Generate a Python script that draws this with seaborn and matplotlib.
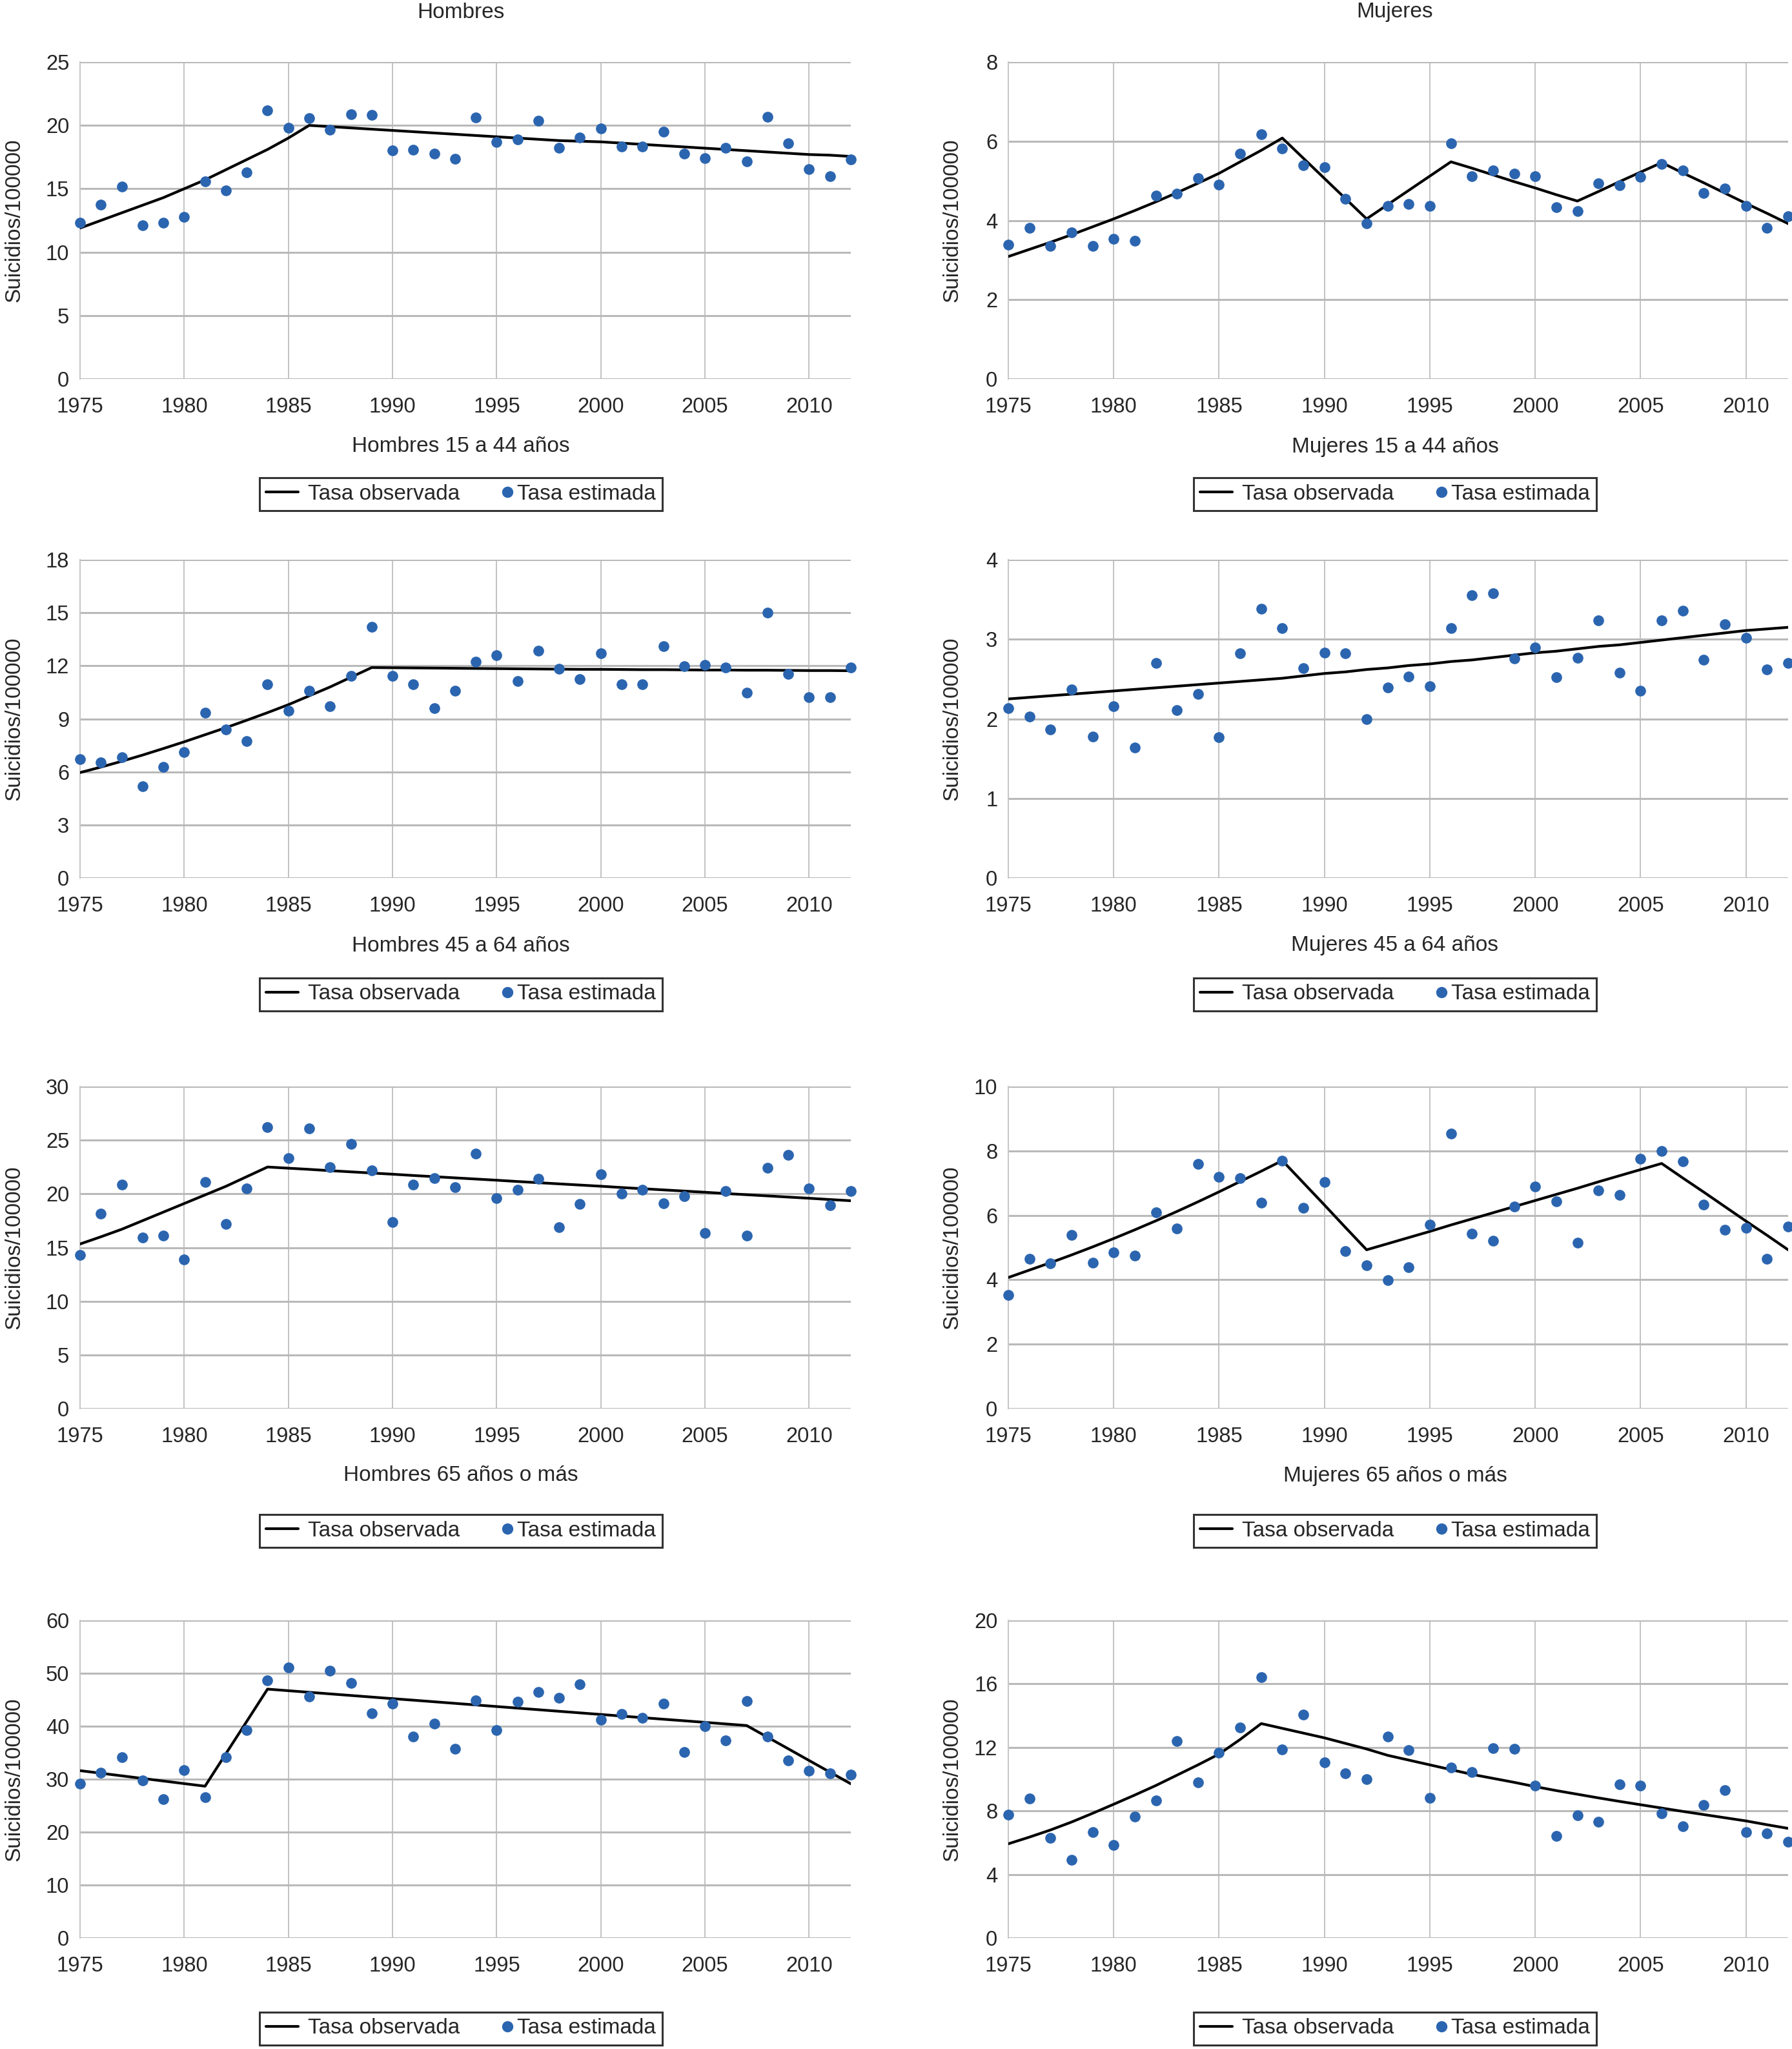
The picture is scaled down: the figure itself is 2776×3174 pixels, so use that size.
import matplotlib
matplotlib.use("Agg")
from matplotlib import pyplot as plt
from matplotlib.lines import Line2D
from matplotlib.legend_handler import HandlerBase
import pandas as pd
import seaborn as sns

# Years 1975-2012
years = list(range(1975, 2013))

# Hombres (total)
h_all_est = [12.33, 13.75, 15.17, 12.10, 12.30, 12.77, 15.60, 14.85, 16.27, 21.20,
             19.82, 20.58, 19.63, 20.90, 20.81, 18.02, 18.06, 17.79, 17.36, 20.62,
             18.68, 18.87, 20.37, 18.21, 19.02, 19.76, 18.34, 18.34, 19.48, 17.79,
             17.41, 18.21, 17.17, 20.68, 18.59, 16.56, 15.99, 17.30]
h_all_obs = [11.9, 12.5, 13.1, 13.7, 14.3, 15.0, 15.7, 16.5, 17.3, 18.1,
             19.0, 20.0, 19.9, 19.8, 19.7, 19.6, 19.5, 19.4, 19.3, 19.2,
             19.1, 19.0, 18.9, 18.8, 18.75, 18.7, 18.6, 18.5, 18.4, 18.3,
             18.2, 18.1, 18.0, 17.9, 17.8, 17.7, 17.65, 17.55]

# Mujeres (total)
m_all_est = [3.39, 3.81, 3.35, 3.70, 3.35, 3.54, 3.48, 4.63, 4.67, 5.06,
             4.90, 5.68, 6.18, 5.82, 5.40, 5.35, 4.54, 3.92, 4.36, 4.42,
             4.37, 5.95, 5.12, 5.26, 5.18, 5.11, 4.34, 4.23, 4.94, 4.88,
             5.10, 5.42, 5.26, 4.69, 4.81, 4.36, 3.81, 4.11]
m_all_obs = [3.09, 3.27, 3.45, 3.64, 3.84, 4.04, 4.25, 4.47, 4.70, 4.94,
             5.19, 5.48, 5.77, 6.08, 5.57, 5.06, 4.55, 4.04, 4.40, 4.76,
             5.12, 5.48, 5.32, 5.15, 4.98, 4.82, 4.65, 4.49, 4.73, 4.98,
             5.22, 5.46, 5.20, 4.95, 4.69, 4.43, 4.18, 3.92]

# Hombres 15 a 44 años
h_15_est = [6.71, 6.55, 6.84, 5.18, 6.28, 7.12, 9.35, 8.40, 7.73, 10.95,
            9.46, 10.57, 9.72, 11.43, 14.19, 11.43, 10.95, 9.62, 10.57, 12.24,
            12.61, 11.15, 12.84, 11.83, 11.25, 12.71, 10.95, 10.95, 13.11, 11.97,
            12.04, 11.90, 10.48, 15.02, 11.52, 10.23, 10.23, 11.89]
h_15_obs = [5.96, 6.27, 6.60, 6.95, 7.32, 7.70, 8.10, 8.50, 8.92, 9.35,
            9.80, 10.30, 10.80, 11.35, 11.90, 11.89, 11.88, 11.87, 11.86, 11.85,
            11.84, 11.83, 11.82, 11.81, 11.80, 11.80, 11.79, 11.78, 11.78, 11.77,
            11.76, 11.76, 11.75, 11.75, 11.74, 11.73, 11.73, 11.72]

# Mujeres 15 a 44 años
m_15_est = [2.13, 2.03, 1.87, 2.37, 1.78, 2.16, 1.64, 2.70, 2.11, 2.31,
            1.77, 2.82, 3.38, 3.14, 2.64, 2.83, 2.82, 2.00, 2.39, 2.53,
            2.41, 3.14, 3.55, 3.58, 2.76, 2.90, 2.52, 2.77, 3.24, 2.58,
            2.35, 3.24, 3.36, 2.74, 3.19, 3.02, 2.62, 2.70]
m_15_obs = [2.25, 2.27, 2.29, 2.31, 2.33, 2.35, 2.37, 2.39, 2.41, 2.43,
            2.45, 2.47, 2.49, 2.51, 2.54, 2.57, 2.59, 2.62, 2.64, 2.67,
            2.69, 2.72, 2.74, 2.77, 2.80, 2.83, 2.85, 2.88, 2.91, 2.93,
            2.96, 2.99, 3.02, 3.05, 3.08, 3.11, 3.13, 3.15]

# Hombres 45 a 64 años
h_45_est = [14.28, 18.13, 20.89, 15.96, 16.12, 13.88, 21.09, 17.17, 20.48, 26.24,
            23.33, 26.08, 22.50, 24.63, 22.16, 17.35, 20.89, 21.49, 20.60, 23.77,
            19.59, 20.37, 21.42, 16.90, 19.07, 21.83, 20.04, 20.37, 19.14, 19.77,
            16.34, 20.26, 16.12, 22.43, 23.62, 20.48, 18.92, 20.26]
h_45_obs = [15.33, 16.0, 16.7, 17.5, 18.3, 19.1, 19.9, 20.7, 21.6, 22.5,
            22.39, 22.28, 22.16, 22.05, 21.94, 21.83, 21.71, 21.60, 21.49, 21.38,
            21.27, 21.15, 21.04, 20.93, 20.82, 20.71, 20.59, 20.48, 20.37, 20.26,
            20.15, 20.03, 19.92, 19.81, 19.70, 19.59, 19.47, 19.36]

# Mujeres 45 a 64 años
m_45_est = [3.53, 4.64, 4.50, 5.40, 4.53, 4.85, 4.74, 6.10, 5.60, 7.60,
            7.20, 7.16, 6.40, 7.70, 6.23, 7.04, 4.89, 4.44, 3.98, 4.38,
            5.71, 8.54, 5.43, 5.22, 6.27, 6.90, 6.44, 5.15, 6.78, 6.63,
            7.75, 8.00, 7.67, 6.33, 5.56, 5.62, 4.64, 5.66]
m_45_obs = [4.07, 4.30, 4.53, 4.77, 5.02, 5.28, 5.55, 5.83, 6.12, 6.42,
            6.73, 7.05, 7.37, 7.70, 7.01, 6.32, 5.62, 4.93, 5.12, 5.31,
            5.50, 5.70, 5.89, 6.08, 6.27, 6.46, 6.65, 6.84, 7.04, 7.23,
            7.42, 7.61, 7.16, 6.72, 6.27, 5.82, 5.38, 4.93]

# Hombres 65 años o más
h_65_est = [29.12, 31.25, 34.10, 29.80, 26.27, 31.70, 26.63, 34.10, 39.31, 48.69,
            51.09, 45.65, 50.54, 48.23, 42.48, 44.29, 38.09, 40.44, 35.78, 44.84,
            39.22, 44.61, 46.42, 45.33, 47.92, 41.26, 42.26, 41.58, 44.29, 35.14,
            39.99, 37.27, 44.75, 38.04, 33.56, 31.61, 31.07, 30.84]
h_65_obs = [31.61, 31.12, 30.63, 30.14, 29.65, 29.16, 28.67, 34.8, 40.9, 47.01,
            46.71, 46.41, 46.11, 45.81, 45.51, 45.21, 44.92, 44.62, 44.32, 44.02,
            43.72, 43.42, 43.12, 42.82, 42.52, 42.22, 41.92, 41.62, 41.32, 41.03,
            40.73, 40.43, 40.13, 37.93, 35.73, 33.52, 31.32, 29.12]

# Mujeres 65 años o más
m_65_est = [7.75, 8.77, 6.30, 4.90, 6.65, 5.86, 7.63, 8.65, 12.41, 9.80,
            11.65, 13.25, 16.43, 11.88, 14.08, 11.05, 10.36, 10.02, 12.69, 11.81,
            8.82, 10.74, 10.44, 11.96, 11.91, 9.58, 6.42, 7.74, 7.30, 9.68,
            9.61, 7.86, 7.03, 8.39, 9.30, 6.65, 6.57, 6.07]
m_65_obs = [5.93, 6.35, 6.80, 7.30, 7.85, 8.42, 9.00, 9.60, 10.25, 10.90,
            11.58, 12.50, 13.50, 13.20, 12.90, 12.60, 12.25, 11.90, 11.50, 11.20,
            10.90, 10.60, 10.30, 10.05, 9.80, 9.53, 9.28, 9.05, 8.82, 8.60,
            8.39, 8.18, 7.97, 7.77, 7.57, 7.37, 7.13, 6.90]

panel_titles = [["Hombres", "Mujeres"],
                ["Hombres 15 a 44 años", "Mujeres 15 a 44 años"],
                ["Hombres 45 a 64 años", "Mujeres 45 a 64 años"],
                ["Hombres 65 años o más", "Mujeres 65 años o más"]]
panel_series = [[(h_all_obs, h_all_est), (m_all_obs, m_all_est)],
                [(h_15_obs, h_15_est), (m_15_obs, m_15_est)],
                [(h_45_obs, h_45_est), (m_45_obs, m_45_est)],
                [(h_65_obs, h_65_est), (m_65_obs, m_65_est)]]
y_ticks = [[[0, 5, 10, 15, 20, 25], [0, 2, 4, 6, 8]],
           [[0, 3, 6, 9, 12, 15, 18], [0, 1, 2, 3, 4]],
           [[0, 5, 10, 15, 20, 25, 30], [0, 2, 4, 6, 8, 10]],
           [[0, 10, 20, 30, 40, 50, 60], [0, 4, 8, 12, 16, 20]]]
x_ticks = [1975, 1980, 1985, 1990, 1995, 2000, 2005, 2010]

label_line = "Tasa observada"
label_dots = "Tasa estimada"
dot_color = "#2b65b0"


class RightDot(HandlerBase):
    # dot sitting at the right end of its handle box, close to the text
    def create_artists(self, legend, orig_handle, xdescent, ydescent,
                       width, height, fontsize, trans):
        dot = Line2D([width - xdescent], [height / 2 - ydescent], ls="none",
                     marker="o", ms=11.5, mfc=dot_color, mec=dot_color, transform=trans)
        return [dot]


sns.set_style("white")
plt.rcParams['font.family'] = ['Liberation Sans', 'DejaVu Sans']

W, H = 2776, 3174
fig = plt.figure(figsize=(W / 100, H / 100), dpi=100)

# axes boxes in pixels (left, right) and (top, bottom)
cols_px = [(124, 1318), (1562, 2770)]
rows_px = [(96, 587), (867, 1360), (1683, 2182), (2510, 3002)]
title_y_px = [19, 692, 1465, 2286]
legend_y_px = [765, 1540, 2371, 3142]
col_center_px = [714, 2161]
ylabel_x_px = [37, 1490]

fs = 24

for r in range(4):
    for c in range(2):
        x0, x1 = cols_px[c]
        t, b = rows_px[r]
        ax = fig.add_axes([x0 / W, 1 - b / H, (x1 - x0) / W, (b - t) / H])
        obs, est = panel_series[r][c]
        df = pd.DataFrame({"year": years, "obs": obs, "est": est})
        sns.lineplot(data=df, x="year", y="obs", ax=ax, color="black", lw=3.0, zorder=3)
        ax.plot(df["year"], df["est"], ls="none", marker="o", ms=11,
                mfc=dot_color, mec=dot_color, zorder=4, clip_on=False)
        yt = y_ticks[r][c]
        ax.set_xlim(1975, 2012)
        ax.set_ylim(yt[0], yt[-1])
        ax.set_yticks(yt)
        ax.set_xticks(x_ticks)
        ax.set_xlabel("")
        ax.set_ylabel("Suicidios/100000", fontsize=fs)
        ax.yaxis.set_label_coords((ylabel_x_px[c] - x0) / (x1 - x0), 0.5)
        ax.tick_params(axis="both", length=0, labelsize=23.5)
        ax.tick_params(axis="x", pad=20)
        ax.tick_params(axis="y", pad=12)
        for s in ["top", "right", "bottom"]:
            ax.spines[s].set_visible(False)
        ax.spines["left"].set_color("#c8c8c8")
        ax.spines["left"].set_linewidth(1.5)
        ax.grid(axis="y", color="#b9b9b9", lw=2.2)
        ax.grid(axis="x", color="#bdbdbd", lw=1.3)
        ax.set_axisbelow(True)

        fig.text(col_center_px[c] / W, 1 - title_y_px[r] / H, panel_titles[r][c],
                 ha="center", va="center", fontsize=fs)

        line_h = Line2D([], [], color="black", lw=3.0)
        dot_h = Line2D([], [], ls="none", marker="o")
        leg = fig.legend([line_h, dot_h], [label_line, label_dots], ncol=2,
                         loc="center", bbox_to_anchor=(col_center_px[c] / W, 1 - legend_y_px[r] / H),
                         fontsize=fs, frameon=True, fancybox=False, edgecolor="black",
                         handlelength=1.5, handletextpad=0.45, columnspacing=0.7,
                         borderpad=0.3, borderaxespad=0,
                         handler_map={dot_h: RightDot()})
        leg.get_frame().set_linewidth(2.2)

fig.savefig("out.png", dpi=100)
